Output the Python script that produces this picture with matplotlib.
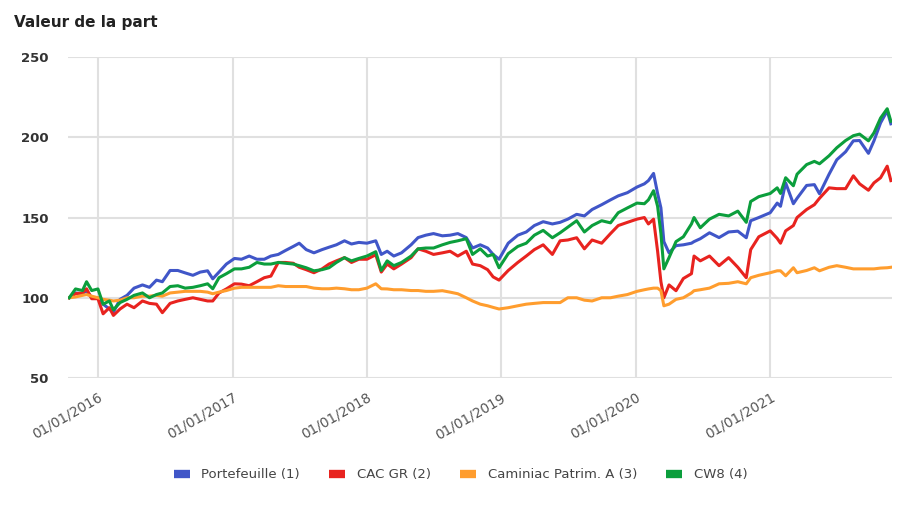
"""Valeur de la part : portefeuille vs indices."""

import matplotlib
matplotlib.use("Agg")
import matplotlib.pyplot as plt
import matplotlib.dates as mdates
import pandas as pd

dates = [
    "2015-10-15", "2015-11-01", "2015-11-20", "2015-12-01", "2015-12-15",
    "2016-01-01", "2016-01-15", "2016-02-01", "2016-02-12", "2016-03-01",
    "2016-03-20", "2016-04-08", "2016-05-01", "2016-05-20", "2016-06-08",
    "2016-06-24", "2016-07-15", "2016-08-05", "2016-08-25", "2016-09-15",
    "2016-10-05", "2016-10-25", "2016-11-08", "2016-11-25", "2016-12-15",
    "2017-01-06", "2017-01-25", "2017-02-15", "2017-03-08", "2017-03-28",
    "2017-04-15", "2017-05-05", "2017-05-25", "2017-06-15", "2017-07-01",
    "2017-07-20", "2017-08-10", "2017-09-01", "2017-09-20", "2017-10-10",
    "2017-11-01", "2017-11-20", "2017-12-10", "2018-01-01", "2018-01-25",
    "2018-02-09", "2018-02-25", "2018-03-15", "2018-04-05", "2018-05-01",
    "2018-05-20", "2018-06-10", "2018-07-01", "2018-07-25", "2018-08-15",
    "2018-09-05", "2018-09-28", "2018-10-15", "2018-11-05", "2018-11-25",
    "2018-12-10", "2018-12-26", "2019-01-20", "2019-02-15", "2019-03-10",
    "2019-04-01", "2019-04-25", "2019-05-20", "2019-06-10", "2019-07-01",
    "2019-07-25", "2019-08-15", "2019-09-05", "2019-10-01", "2019-10-25",
    "2019-11-15", "2019-12-10", "2020-01-05", "2020-01-25", "2020-02-05",
    "2020-02-19", "2020-03-01", "2020-03-10", "2020-03-18", "2020-04-01",
    "2020-04-20", "2020-05-10", "2020-06-01", "2020-06-08", "2020-06-25",
    "2020-07-20", "2020-08-15", "2020-09-10", "2020-10-05", "2020-10-28",
    "2020-11-09", "2020-12-01", "2021-01-01", "2021-01-20", "2021-01-29",
    "2021-02-12", "2021-03-05", "2021-03-15", "2021-04-10", "2021-05-01",
    "2021-05-15", "2021-06-10", "2021-07-01", "2021-07-25", "2021-08-15",
    "2021-09-01", "2021-09-25", "2021-10-10", "2021-10-28", "2021-11-15",
    "2021-11-25",
]

portefeuille = [
    100, 103, 102.5, 104.5, 100, 100, 96, 93, 91, 99,
    101.5, 106, 108, 106.5, 111, 110, 117, 117, 115.5, 114,
    116, 116.8, 111.8, 116, 121, 124.5, 124, 126, 124, 124,
    126, 127, 129.5, 132, 134, 130, 128, 130, 131.5, 133,
    135.5, 133.5, 134.5, 134, 135.5, 127, 129, 126, 128, 133,
    137.5, 139, 140, 138.6, 139, 140, 137.5, 131, 133, 131,
    127, 124, 134, 139, 141, 145, 147.4, 146, 147, 149,
    152, 151, 155, 158, 161, 163.5, 165.5, 169, 171, 173,
    177.5, 165, 156, 135, 128, 132.5, 133, 134, 135, 136.8,
    140.5, 137.5, 141, 141.5, 137.4, 148, 150, 153, 159, 157,
    171.6, 158.6, 162, 170, 170.5, 164.8, 177, 186, 191, 197.8,
    198, 190, 197.8, 209, 216.5, 208.4,
]

cac_gr = [
    100, 102.5, 103, 105.6, 99.4, 99.4, 90, 93.8, 89, 93,
    96, 93.8, 98, 96.5, 96, 90.7, 96.5, 98, 99, 100,
    99, 98, 98, 103, 105.5, 108.7, 108.5, 107.5, 110, 112.5,
    113.5, 122, 122, 121.5, 119, 117.5, 115.6, 118, 121, 123,
    125, 122, 124, 124, 126.8, 116, 121, 118, 121, 125,
    130.5, 129, 127, 128, 129, 126, 129, 121, 120, 117.5,
    113, 111, 117, 122, 126, 130, 133, 127, 135.5, 136,
    137.4, 130.5, 136, 134, 140, 145, 147, 149, 150, 146,
    149, 129, 110, 100, 108, 104.4, 112, 115, 126, 123,
    126, 120, 125, 119, 112.5, 130, 138, 141.7, 137, 134,
    141.7, 145, 150, 155, 158, 162, 168.5, 168, 168, 176,
    171, 167, 171.6, 174.8, 182, 173,
]

caminiac = [
    100, 100.5, 101.5, 102, 101, 100, 99, 98.5, 98, 98.5,
    100, 100, 101, 101, 101.5, 101, 103, 103.5, 104, 104,
    104, 103.5, 102.5, 103.5, 104.5, 106, 106.5, 106.5, 106.5, 106.5,
    106.5, 107.5, 107, 107, 107, 107, 106, 105.6, 105.6, 106,
    105.6, 105, 105, 106, 108.7, 105.6, 105.5, 105, 105, 104.5,
    104.5, 104, 104, 104.4, 103.5, 102.5, 100, 98, 96, 95,
    94, 93, 93.8, 95, 96, 96.5, 97, 97, 97, 100,
    100, 98.5, 98, 100, 100, 101, 102, 104, 105, 105.5,
    106, 106, 104.4, 95, 96, 99, 100, 103, 104.4, 105,
    106, 108.7, 109, 110, 108.7, 112.5, 114, 115.6, 116.8, 116.8,
    113.7, 118.7, 115.6, 117, 118.7, 116.8, 119, 120, 119, 118,
    118, 118, 118, 118.5, 118.7, 119,
]

cw8 = [
    100, 105.5, 104.5, 110, 104.5, 105.5, 96, 98, 92.5, 97,
    99, 101.5, 103, 100, 102, 103, 107, 107.5, 106, 106.5,
    107.5, 108.7, 105.6, 112.5, 115, 118, 118, 119, 122, 121,
    121, 122, 121.5, 121, 120, 118.7, 116.8, 117.5, 118.7, 122,
    125, 123, 124.5, 126, 128.7, 117, 123, 120, 122, 126,
    130.5, 131, 131, 133, 134.5, 135.5, 136.8, 127, 130.5, 126,
    127, 118.7, 127.5, 132, 134, 139, 142, 137.4, 140.5, 144,
    148, 141, 145, 148, 146.7, 153, 156, 159, 158.6, 161,
    166.7, 157, 140, 118, 125, 135, 138, 146, 150, 143.6,
    149, 152, 151, 154, 147, 160, 163, 165, 168.5, 165,
    174.8, 169.8, 177, 183, 185, 183.5, 188.5, 193.5, 198, 201,
    202, 197.8, 202.8, 212, 217.8, 210,
]

series_names = ["Portefeuille (1)", "CAC GR (2)", "Caminiac Patrim. A (3)", "CW8 (4)"]
series_colors = ["#4056c8", "#e8231f", "#ff9d2e", "#0b9e3c"]
year_ticks = ["2016-01-01", "2017-01-01", "2018-01-01", "2019-01-01", "2020-01-01", "2021-01-01"]
y_ticks = [50, 100, 150, 200, 250]


def main():
    x = pd.to_datetime(dates)
    fig = plt.figure(figsize=(9.21, 5.05), dpi=100)
    ax = fig.add_axes([0.074, 0.2515, 0.8945, 0.6355])

    for values, name, color in zip(
            [portefeuille, cac_gr, caminiac, cw8], series_names, series_colors):
        ax.plot(x, values, color=color, lw=2.2, label=name, solid_joinstyle="round")

    ax.set_ylim(50, 250)
    ax.set_xlim(x[0] - pd.Timedelta(days=3), x[-1] + pd.Timedelta(days=3))
    ax.set_yticks(y_ticks)
    ax.set_xticks(pd.to_datetime(year_ticks))
    ax.xaxis.set_major_formatter(mdates.DateFormatter("%d/%m/%Y"))
    ax.grid(True, color="#e0e0e0", lw=1.5)
    ax.set_axisbelow(True)
    for spine in ax.spines.values():
        spine.set_visible(False)
    ax.tick_params(length=0)
    ax.tick_params(axis="y", pad=14, labelsize=9.5, labelcolor="#333333")
    for label in ax.get_yticklabels():
        label.set_fontweight("bold")
    ax.tick_params(axis="x", pad=9, labelsize=9.8, labelcolor="#555555")
    for label in ax.get_xticklabels():
        label.set_rotation(30)
        label.set_ha("right")
        label.set_rotation_mode("anchor")

    fig.text(0.015, 0.955, "Valeur de la part", fontsize=11, fontweight="bold",
             color="#222222", va="center")

    leg = fig.legend(loc="center", bbox_to_anchor=(0.5, 0.06), ncol=4, frameon=False,
                     handlelength=1.2, handletextpad=0.9, columnspacing=2.2,
                     fontsize=9.5)
    for line in leg.get_lines():
        line.set_linewidth(6)
        line.set_solid_capstyle("butt")
    for text in leg.get_texts():
        text.set_color("#444444")

    fig.savefig("out.png", dpi=100)


if __name__ == "__main__":
    main()
